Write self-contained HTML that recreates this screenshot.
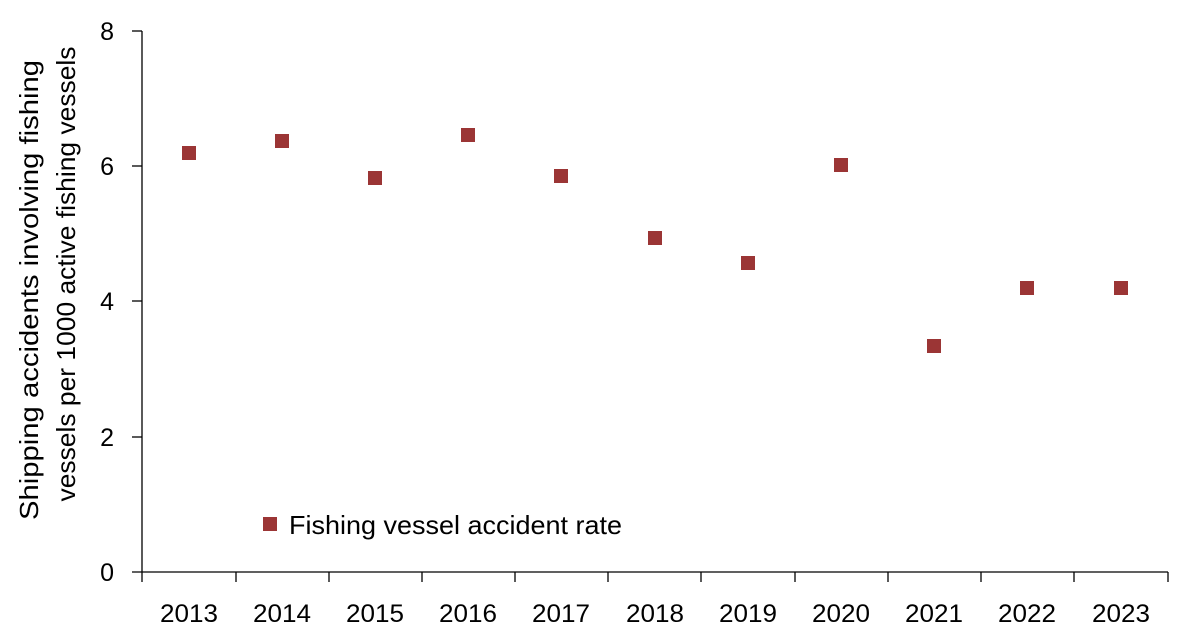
<!DOCTYPE html>
<html><head><style>body{margin:0;background:#fff}</style></head><body>
<svg width="1200" height="638" xmlns="http://www.w3.org/2000/svg" font-family="Liberation Sans, sans-serif">
<rect width="1200" height="638" fill="#fff"/>
<g stroke="#000" stroke-width="1.3" fill="none">
<line x1="142" y1="31" x2="142" y2="572"/>
<line x1="132" y1="572" x2="1168" y2="572"/>
<line x1="132" y1="31" x2="142" y2="31"/>
<line x1="132" y1="166" x2="142" y2="166"/>
<line x1="132" y1="301" x2="142" y2="301"/>
<line x1="132" y1="437" x2="142" y2="437"/>
<line x1="142" y1="572" x2="142" y2="582"/>
<line x1="236" y1="572" x2="236" y2="582"/>
<line x1="329" y1="572" x2="329" y2="582"/>
<line x1="422" y1="572" x2="422" y2="582"/>
<line x1="515" y1="572" x2="515" y2="582"/>
<line x1="608" y1="572" x2="608" y2="582"/>
<line x1="701" y1="572" x2="701" y2="582"/>
<line x1="795" y1="572" x2="795" y2="582"/>
<line x1="888" y1="572" x2="888" y2="582"/>
<line x1="981" y1="572" x2="981" y2="582"/>
<line x1="1074" y1="572" x2="1074" y2="582"/>
<line x1="1168" y1="572" x2="1168" y2="582"/>
</g>
<g font-size="25" fill="#000" text-anchor="end">
<text x="114" y="40">8</text><text x="114" y="175">6</text><text x="114" y="310">4</text><text x="114" y="446">2</text><text x="114" y="581">0</text>
</g>
<g font-size="25" fill="#000" text-anchor="middle">
<text x="189" y="622" textLength="58" lengthAdjust="spacingAndGlyphs">2013</text><text x="282" y="622" textLength="58" lengthAdjust="spacingAndGlyphs">2014</text><text x="375" y="622" textLength="58" lengthAdjust="spacingAndGlyphs">2015</text><text x="468" y="622" textLength="58" lengthAdjust="spacingAndGlyphs">2016</text><text x="561" y="622" textLength="58" lengthAdjust="spacingAndGlyphs">2017</text><text x="655" y="622" textLength="58" lengthAdjust="spacingAndGlyphs">2018</text><text x="748" y="622" textLength="58" lengthAdjust="spacingAndGlyphs">2019</text><text x="841" y="622" textLength="58" lengthAdjust="spacingAndGlyphs">2020</text><text x="934" y="622" textLength="58" lengthAdjust="spacingAndGlyphs">2021</text><text x="1027" y="622" textLength="58" lengthAdjust="spacingAndGlyphs">2022</text><text x="1121" y="622" textLength="58" lengthAdjust="spacingAndGlyphs">2023</text>
</g>
<g font-size="26" fill="#000" text-anchor="middle">
<text transform="translate(38,290) rotate(-90)" textLength="460" lengthAdjust="spacingAndGlyphs">Shipping accidents involving fishing</text>
<text transform="translate(75,274) rotate(-90)" textLength="455" lengthAdjust="spacingAndGlyphs">vessels per 1000 active fishing vessels</text>
</g>
<g fill="#9b3535">
<rect x="182" y="146" width="14" height="14"/>
<rect x="275" y="134" width="14" height="14"/>
<rect x="368" y="171" width="14" height="14"/>
<rect x="461" y="128" width="14" height="14"/>
<rect x="554" y="169" width="14" height="14"/>
<rect x="648" y="231" width="14" height="14"/>
<rect x="741" y="256" width="14" height="14"/>
<rect x="834" y="158" width="14" height="14"/>
<rect x="927" y="339" width="14" height="14"/>
<rect x="1020" y="281" width="14" height="14"/>
<rect x="1114" y="281" width="14" height="14"/>
<rect x="263" y="517" width="14" height="14"/>
</g>
<text x="289" y="534" font-size="26" fill="#000" textLength="333" lengthAdjust="spacingAndGlyphs">Fishing vessel accident rate</text>
</svg>
</body></html>
